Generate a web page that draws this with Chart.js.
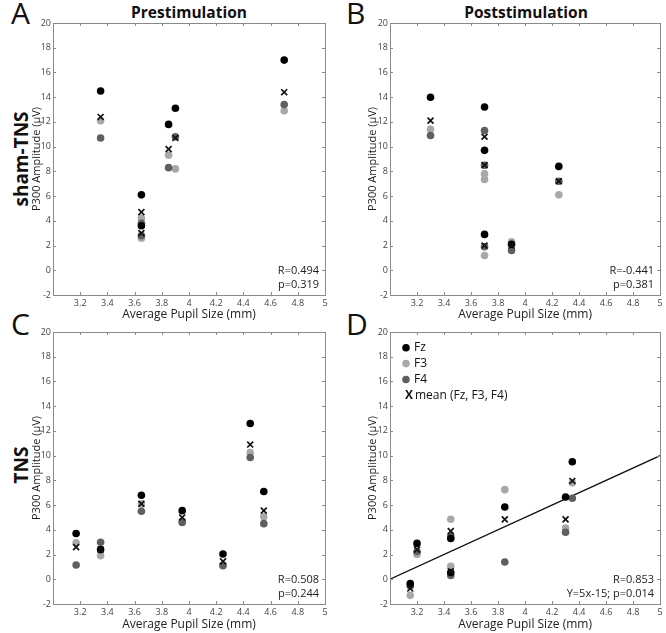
<!DOCTYPE html>
<html>
<head>
<meta charset="utf-8">
<script src="https://cdn.jsdelivr.net/npm/chart.js@4/dist/chart.umd.min.js"></script>
<style>
  body { margin: 0; background: #fff; }
  #page { position: relative; width: 666px; height: 633px; overflow: hidden; font-family: "Open Sans", sans-serif; color: #111; }
  canvas { position: absolute; }
  .lbl { position: absolute; white-space: nowrap; line-height: 1; }
  .letter { font-size: 30px; }
  .col { font-size: 15.5px; font-weight: bold; transform: translateX(-50%); }
  .row { font-size: 19px; font-weight: bold; transform: translate(-50%, -50%) rotate(-90deg); }
</style>
</head>
<body>
<div id="page">
  <div class="lbl letter" style="left:11px;top:-2px">A</div>
  <div class="lbl letter" style="left:346px;top:-2px">B</div>
  <div class="lbl letter" style="left:11px;top:309px">C</div>
  <div class="lbl letter" style="left:346px;top:309px">D</div>
  <div class="lbl col" style="left:189px;top:5px">Prestimulation</div>
  <div class="lbl col" style="left:526px;top:5px">Poststimulation</div>
  <div class="lbl row" style="left:21px;top:159px">sham-TNS</div>
  <div class="lbl row" style="left:21px;top:465px">TNS</div>

  <canvas id="cA" width="333" height="322" style="left:0;top:0"></canvas>
  <canvas id="cB" width="329" height="322" style="left:337px;top:0"></canvas>
  <canvas id="cC" width="333" height="323" style="left:0;top:310px"></canvas>
  <canvas id="cD" width="329" height="323" style="left:337px;top:310px"></canvas>
</div>

<script>
// A: sham-TNS, prestimulation
const preShamX    = [3.35, 3.65, 3.65, 3.85, 3.9, 4.7];
const preShamFz   = [14.5, 6.1, 3.6, 11.8, 13.1, 17.0];
const preShamF3   = [12.1, 4.2, 2.6, 9.3, 8.2, 12.9];
const preShamF4   = [10.7, 3.8, 2.8, 8.3, 10.8, 13.4];
const preShamMean = [12.4, 4.7, 3.0, 9.8, 10.7, 14.4];

// B: sham-TNS, poststimulation
const postShamX    = [3.3, 3.7, 3.7, 3.7, 3.9, 4.25];
const postShamFz   = [14.0, 13.2, 9.7, 2.9, 2.1, 8.4];
const postShamF3   = [11.4, 7.8, 7.35, 1.2, 2.3, 6.1];
const postShamF4   = [10.9, 11.3, 8.5, 1.9, 1.6, 7.2];
const postShamMean = [12.1, 10.8, 8.5, 2.0, 2.0, 7.2];

// C: TNS, prestimulation
const preTnsX    = [3.17, 3.35, 3.65, 3.95, 4.25, 4.45, 4.55];
const preTnsFz   = [3.7, 2.4, 6.8, 5.55, 2.05, 12.6, 7.1];
const preTnsF3   = [2.95, 1.9, 6.1, 4.7, 1.15, 10.25, 5.05];
const preTnsF4   = [1.15, 3.0, 5.5, 4.6, 1.1, 9.85, 4.5];
const preTnsMean = [2.6, 2.4, 6.1, 5.0, 1.45, 10.9, 5.55];

// D: TNS, poststimulation
const postTnsX    = [3.15, 3.2, 3.45, 3.45, 3.85, 4.3, 4.35];
const postTnsFz   = [-0.35, 2.9, 3.3, 0.55, 5.85, 6.65, 9.5];
const postTnsF3   = [-1.3, 2.0, 4.85, 1.05, 7.25, 4.15, 7.8];
const postTnsF4   = [-0.55, 2.25, 3.5, 0.3, 1.4, 3.8, 6.55];
const postTnsMean = [-0.75, 2.4, 3.9, 0.65, 4.85, 4.85, 7.95];

// fitted line in D (Y = 5x - 15)
const fitX = [3, 5];
const fitY = [0, 10];

const statsA = ['R=0.494', 'p=0.319'];
const statsB = ['R=-0.441', 'p=0.381'];
const statsC = ['R=0.508', 'p=0.244'];
const statsD = ['R=0.853', 'Y=5x-15; p=0.014'];

const legendLabels = ['Fz', 'F3', 'F4', 'mean (Fz, F3, F4)'];

const COL_FZ = '#000000', COL_F3 = '#a8a8a8', COL_F4 = '#5f5f5f';

Chart.defaults.font.family = '"Open Sans", sans-serif';

const pts = (xs, ys) => xs.map((x, i) => ({ x, y: ys[i] }));

// box + inward tick marks, MATLAB style
const frame = {
  id: 'frame',
  afterDraw(chart) {
    const { ctx, chartArea: a, scales: { x, y } } = chart;
    ctx.save();
    ctx.strokeStyle = '#8a8a8a';
    ctx.lineWidth = 1;
    ctx.beginPath();
    x.ticks.forEach(t => {
      const px = Math.round(x.getPixelForValue(t.value)) + 0.5;
      ctx.moveTo(px, a.bottom); ctx.lineTo(px, a.bottom - 3);
      ctx.moveTo(px, a.top); ctx.lineTo(px, a.top + 3);
    });
    y.ticks.forEach(t => {
      const py = Math.round(y.getPixelForValue(t.value)) + 0.5;
      ctx.moveTo(a.left, py); ctx.lineTo(a.left + 3, py);
      ctx.moveTo(a.right, py); ctx.lineTo(a.right - 3, py);
    });
    ctx.stroke();
    ctx.strokeRect(Math.round(a.left) + 0.5, Math.round(a.top) + 0.5, Math.round(a.width), Math.round(a.height));
    ctx.restore();
  }
};

const stats = {
  id: 'stats',
  afterDraw(chart, args, opts) {
    if (!opts.lines) return;
    const { ctx, chartArea: a } = chart;
    ctx.save();
    ctx.font = '11px "Open Sans"';
    ctx.fillStyle = '#222';
    ctx.textAlign = 'right';
    ctx.textBaseline = 'middle';
    opts.lines.forEach((t, i) => ctx.fillText(t, a.right - 6, a.bottom - 24 + i * 13.5));
    ctx.restore();
  }
};

const legendBox = {
  id: 'legendBox',
  afterDraw(chart, args, opts) {
    if (!opts.show) return;
    const { ctx, chartArea: a } = chart;
    const cols = [COL_FZ, COL_F3, COL_F4];
    ctx.save();
    ctx.textBaseline = 'middle';
    legendLabels.forEach((lab, i) => {
      const cy = a.top + 15.7 + i * 15.9;
      if (i < 3) {
        ctx.fillStyle = cols[i];
        ctx.beginPath();
        ctx.arc(a.left + 16, cy, 3.8, 0, Math.PI * 2);
        ctx.fill();
        ctx.fillStyle = '#111';
        ctx.font = '12px "Open Sans"';
        ctx.fillText(lab, a.left + 24, cy);
      } else {
        ctx.fillStyle = '#111';
        ctx.font = 'bold 12px "Open Sans"';
        ctx.fillText('X', a.left + 15, cy);
        ctx.font = '12px "Open Sans"';
        ctx.fillText(lab, a.left + 25, cy);
      }
    });
    ctx.restore();
  }
};

function panel(id, xs, fz, f3, f4, mean, lines, pad, yW, xH, extra) {
  const dot = (label, ys, color, order) => ({
    label, data: pts(xs, ys), backgroundColor: color, borderWidth: 0,
    pointRadius: 3.8, pointHoverRadius: 3.8, order
  });
  const datasets = [
    dot('F3', f3, COL_F3, 4),
    dot('F4', f4, COL_F4, 3),
    dot('Fz', fz, COL_FZ, 2),
    {
      label: 'mean', data: pts(xs, mean), pointStyle: 'crossRot',
      borderColor: '#111', backgroundColor: '#111', borderWidth: 1.7,
      pointRadius: 4.2, pointHoverRadius: 4.2, order: 1
    }
  ];
  if (extra) datasets.push(extra);

  new Chart(document.getElementById(id), {
    type: 'scatter',
    data: { datasets },
    options: {
      responsive: false,
      animation: false,
      devicePixelRatio: 1,
      layout: { padding: pad },
      plugins: {
        legend: { display: false },
        tooltip: { enabled: false },
        stats: { lines },
        legendBox: { show: !!extra }
      },
      scales: {
        x: {
          type: 'linear', min: 3, max: 5,
          ticks: {
            stepSize: 0.2, autoSkip: false, maxRotation: 0, padding: 3,
            font: { size: 9 }, color: '#444',
            callback: v => Math.abs(v - 3) < 1e-6 ? '' : String(+v.toFixed(1))
          },
          grid: { display: false, drawTicks: false },
          border: { display: false },
          title: { display: true, text: 'Average Pupil Size (mm)', font: { size: 12 }, color: '#222', padding: { top: 0, bottom: 0 } },
          afterFit: s => { s.height = xH; }
        },
        y: {
          min: -2, max: 20,
          ticks: { stepSize: 2, padding: 2, font: { size: 9 }, color: '#444' },
          grid: { display: false, drawTicks: false },
          border: { display: false },
          title: { display: true, text: 'P300 Amplitude (μV)', font: { size: 11 }, color: '#222', padding: { top: 4, bottom: 0 } },
          afterFit: s => { s.width = yW; }
        }
      }
    },
    plugins: [frame, stats, legendBox]
  });
}

panel('cA', preShamX, preShamFz, preShamF3, preShamF4, preShamMean, statsA,
  { left: 26, top: 23, right: 8, bottom: 0 }, 27, 27);
panel('cB', postShamX, postShamFz, postShamF3, postShamF4, postShamMean, statsB,
  { left: 25, top: 23, right: 4, bottom: 0 }, 28, 27);
panel('cC', preTnsX, preTnsFz, preTnsF3, preTnsF4, preTnsMean, statsC,
  { left: 26, top: 22, right: 8, bottom: 1 }, 27, 28);
panel('cD', postTnsX, postTnsFz, postTnsF3, postTnsF4, postTnsMean, statsD,
  { left: 25, top: 22, right: 4, bottom: 1 }, 28, 28, {
    type: 'line', label: 'fit', data: pts(fitX, fitY),
    borderColor: '#111', borderWidth: 1.3, pointRadius: 0, showLine: true, order: 5
  });
</script>
</body>
</html>
